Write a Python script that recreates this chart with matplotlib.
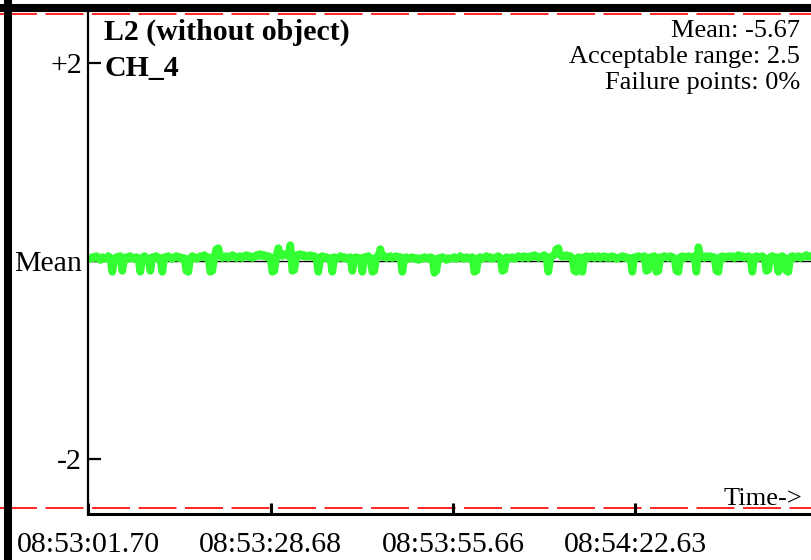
import numpy as np
import matplotlib.pyplot as plt
from matplotlib.lines import Line2D

# ============================================================
# DATA
# ============================================================

mean_value = -5.67
acceptable_range = 2.5
failure_pct = 0

t_start = 0.3        # s after first tick
t_step = 0.296       # s between samples

signal = [
    -5.65, -5.63, -5.64, -5.62, -5.64, -5.66, -5.63, -5.65, -5.64, -5.62,
    -5.64, -5.78, -5.65, -5.63, -5.64, -5.62, -5.77, -5.64, -5.63, -5.65,
    -5.62, -5.64, -5.65, -5.63, -5.64, -5.78, -5.64, -5.62, -5.64, -5.65,
    -5.77, -5.63, -5.64, -5.62, -5.65, -5.64, -5.78, -5.63, -5.64, -5.62,
    -5.64, -5.65, -5.63, -5.62, -5.64, -5.63, -5.65, -5.64, -5.77, -5.78,
    -5.64, -5.62, -5.63, -5.65, -5.64, -5.62, -5.63, -5.61, -5.64, -5.63,
    -5.78, -5.77, -5.63, -5.55, -5.54, -5.62, -5.64, -5.63, -5.62, -5.64,
    -5.63, -5.61, -5.62, -5.64, -5.63, -5.62, -5.64, -5.62, -5.61, -5.63,
    -5.62, -5.64, -5.63, -5.61, -5.62, -5.60, -5.62, -5.61, -5.63, -5.62,
    -5.63, -5.78, -5.77, -5.62, -5.54, -5.61, -5.62, -5.60, -5.61, -5.62,
    -5.51, -5.77, -5.76, -5.61, -5.62, -5.60, -5.62, -5.61, -5.63, -5.62,
    -5.61, -5.63, -5.62, -5.64, -5.78, -5.63, -5.62, -5.64, -5.63, -5.65,
    -5.64, -5.78, -5.63, -5.65, -5.64, -5.62, -5.64, -5.63, -5.65, -5.64,
    -5.63, -5.77, -5.64, -5.63, -5.65, -5.64, -5.78, -5.63, -5.64, -5.62,
    -5.64, -5.78, -5.77, -5.63, -5.62, -5.55, -5.63, -5.62, -5.64, -5.63,
    -5.62, -5.64, -5.63, -5.62, -5.64, -5.63, -5.78, -5.64, -5.63, -5.65,
    -5.64, -5.63, -5.65, -5.64, -5.66, -5.64, -5.65, -5.63, -5.64, -5.65,
    -5.63, -5.64, -5.79, -5.77, -5.64, -5.65, -5.63, -5.64, -5.66, -5.64,
    -5.65, -5.64, -5.63, -5.65, -5.64, -5.62, -5.64, -5.65, -5.63, -5.64,
    -5.65, -5.63, -5.78, -5.77, -5.64, -5.63, -5.65, -5.64, -5.62, -5.64,
    -5.63, -5.65, -5.64, -5.63, -5.62, -5.64, -5.77, -5.76, -5.63, -5.65,
    -5.64, -5.63, -5.65, -5.64, -5.62, -5.63, -5.64, -5.62, -5.63, -5.64,
    -5.62, -5.63, -5.61, -5.62, -5.64, -5.63, -5.62, -5.61, -5.63, -5.78,
    -5.63, -5.62, -5.61, -5.55, -5.54, -5.61, -5.63, -5.62, -5.61, -5.63,
    -5.62, -5.64, -5.77, -5.78, -5.63, -5.64, -5.78, -5.63, -5.62, -5.64,
    -5.63, -5.62, -5.64, -5.63, -5.62, -5.64, -5.63, -5.62, -5.64, -5.63,
    -5.64, -5.62, -5.63, -5.65, -5.64, -5.63, -5.62, -5.64, -5.63, -5.65,
    -5.64, -5.78, -5.63, -5.64, -5.62, -5.63, -5.64, -5.62, -5.77, -5.76,
    -5.63, -5.64, -5.62, -5.78, -5.77, -5.63, -5.64, -5.62, -5.63, -5.64,
    -5.62, -5.63, -5.64, -5.77, -5.78, -5.63, -5.62, -5.64, -5.63, -5.62,
    -5.63, -5.64, -5.62, -5.78, -5.53, -5.62, -5.63, -5.64, -5.62, -5.63,
    -5.62, -5.64, -5.63, -5.77, -5.78, -5.63, -5.62, -5.64, -5.63, -5.62,
    -5.63, -5.62, -5.64, -5.63, -5.61, -5.63, -5.62, -5.64, -5.63, -5.62,
    -5.64, -5.78, -5.63, -5.62, -5.64, -5.63, -5.62, -5.64, -5.77, -5.76,
    -5.63, -5.62, -5.64, -5.63, -5.78, -5.63, -5.62, -5.64, -5.77, -5.78,
    -5.63, -5.62, -5.64, -5.63, -5.62, -5.64, -5.63, -5.62, -5.61, -5.63,
    -5.62,
]

tick_times = [0.0, 26.98, 53.96, 80.93]
tick_labels = ["08:53:01.70", "08:53:28.68", "08:53:55.66", "08:54:22.63"]

# ============================================================
# PLOT
# ============================================================

plt.rcParams["font.family"] = ["Liberation Serif", "DejaVu Serif"]

W, H = 812, 560
fig = plt.figure(figsize=(W / 100, H / 100), dpi=100)

ax = fig.add_axes([88.3 / W, (H - 514) / H, 1 - 88.3 / W, (514 - 8) / H])

times = t_start + t_step * np.arange(len(signal))

# mean line + limits
ax.axhline(mean_value, color="black", lw=1.0, zorder=1)
for lim in (mean_value + acceptable_range, mean_value - acceptable_range):
    ax.axhline(lim, xmin=-0.13, xmax=1, color="red", lw=1.2,
               linestyle=(0, (22.8, 5.1)), clip_on=False, zorder=1)

ax.plot(times, signal, color="#33ff33", lw=5.5, zorder=2,
        solid_joinstyle="round", solid_capstyle="round")

ax.set_xlim(0, 107.1)
ax.set_ylim(mean_value - 2.556, mean_value + 2.556)

ax.set_yticks([mean_value - 2, mean_value, mean_value + 2])
ax.set_yticklabels(["-2", "Mean", "+2"])
ax.set_xticks(tick_times)
ax.set_xticklabels(tick_labels)

ax.tick_params(axis="y", direction="in", length=9, width=1.6,
               labelsize=21.5, pad=4.5)
ax.tick_params(axis="x", direction="in", length=8, width=2.2,
               labelsize=21.5, pad=13)

for side in ("top", "right"):
    ax.spines[side].set_visible(False)
ax.spines["left"].set_linewidth(1.6)
ax.spines["bottom"].set_linewidth(2.2)

# texts
fig.text(104 / W, 1 - 40 / H, "L2 (without object)",
         fontsize=21.5, fontweight="bold", ha="left", va="baseline")
fig.text(104 / W, 1 - 76 / H, "CH_4",
         fontsize=21.5, fontweight="bold", ha="left", va="baseline")

stats = [f"Mean: {mean_value}",
         f"Acceptable range: {acceptable_range}",
         f"Failure points: {failure_pct}%"]
for i, s in enumerate(stats):
    fig.text(800 / W, 1 - (37 + 26 * i) / H, s, fontsize=19,
             ha="right", va="baseline")

fig.text(802 / W, 1 - 505 / H, "Time->", fontsize=19,
         ha="right", va="baseline")

# outer frame lines
fig.add_artist(Line2D([0, 1], [1 - 8 / H, 1 - 8 / H], color="black",
                      lw=5.8, transform=fig.transFigure))
fig.add_artist(Line2D([8 / W, 8 / W], [0, 1], color="black",
                      lw=5.8, transform=fig.transFigure))

fig.savefig("out.png", dpi=100)
